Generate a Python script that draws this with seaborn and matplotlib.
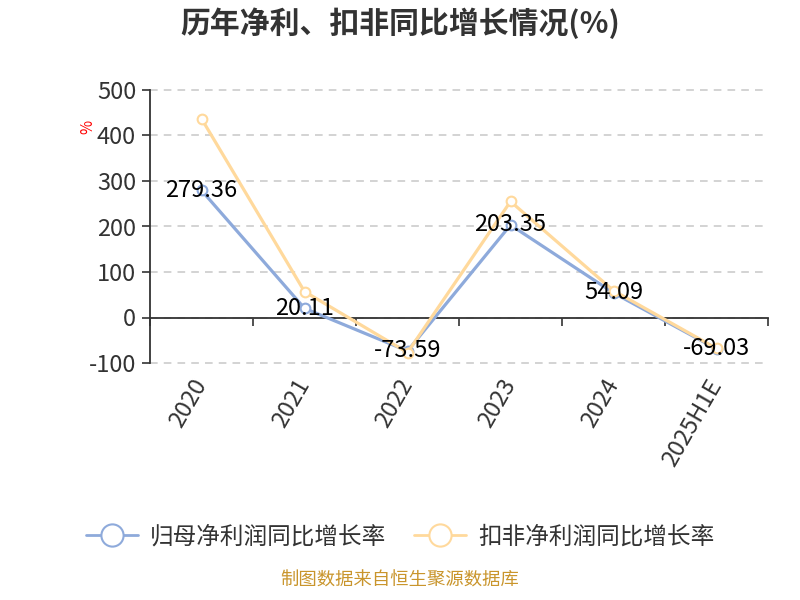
import matplotlib
matplotlib.use("Agg")
import matplotlib.pyplot as plt
import seaborn as sns
import pandas as pd
from matplotlib.lines import Line2D

years = ["2020", "2021", "2022", "2023", "2024", "2025H1E"]
net_profit_growth = [279.36, 20.11, -73.59, 203.35, 54.09, -69.03]
deducted_growth = [437.0, 57.0, -77.0, 255.0, 59.0, -68.0]
series_names = ["归母净利润同比增长率", "扣非净利润同比增长率"]
yticks = [-100, 0, 100, 200, 300, 400, 500]

sns.set_theme(style="white")
plt.rcParams["font.family"] = ["Noto Sans CJK SC", "DejaVu Sans"]
plt.rcParams["axes.unicode_minus"] = False

blue = "#8eaadb"
yellow = "#ffd99c"
txt = "#333333"

df = pd.DataFrame({
    "x": list(range(len(years))) * 2,
    "value": net_profit_growth + deducted_growth,
    "series": [series_names[0]] * len(years) + [series_names[1]] * len(years),
})

fig = plt.figure(figsize=(8, 6), dpi=100)
ax = fig.add_axes([0.1875, 0.395, 0.7725, 0.455])

sns.lineplot(data=df, x="x", y="value", hue="series",
             palette=[blue, yellow], hue_order=series_names,
             linewidth=2.3, marker="o", markersize=7,
             markerfacecolor="white", markeredgewidth=1.5,
             legend=False, ax=ax, zorder=3)
for line, c in zip(ax.get_lines(), [blue, yellow]):
    line.set_markeredgecolor(c)

for i, v in enumerate(net_profit_growth):
    ax.text(i, v, f"{v:.2f}", ha="center", va="center", fontsize=17,
            color="black", zorder=5)

ax.set_xlim(-0.5, len(years) - 0.5)
ax.set_ylim(-100, 500)
ax.set_yticks(yticks)
ax.set_yticklabels([str(t) for t in yticks], fontsize=17, color=txt)
ax.tick_params(axis="y", direction="out", length=6, width=1.2, color=txt, pad=4, left=True)
ax.yaxis.grid(True, linestyle=(0, (5, 4)), color="#c8c8c8", linewidth=1.1)
for gl in ax.get_ygridlines():
    gl.set_clip_on(False)
ax.xaxis.grid(False)

for s in ["top", "right"]:
    ax.spines[s].set_visible(False)
ax.spines["left"].set_color(txt)
ax.spines["left"].set_linewidth(1.3)
ax.spines["bottom"].set_position(("data", 0))
ax.spines["bottom"].set_color(txt)
ax.spines["bottom"].set_linewidth(1.3)

ax.set_xticks(range(len(years)))
ax.set_xticklabels([])
ax.tick_params(axis="x", which="major", length=0, bottom=True)
ax.set_xticks([i - 0.5 for i in range(len(years) + 1)], minor=True)
ax.tick_params(axis="x", which="minor", direction="out", length=6, width=1.2, color=txt, bottom=True)
ax.set_xlabel("")
ax.set_ylabel("")

sec = ax.secondary_xaxis("bottom")
sec.set_xticks(range(len(years)))
sec.set_xticklabels(years, rotation=60, ha="right", va="center", rotation_mode="anchor",
                    fontsize=17, color=txt)
sec.tick_params(axis="x", length=0, pad=13)
sec.spines["bottom"].set_visible(False)

ax.text(-0.1, 0.865, "%", transform=ax.transAxes, rotation=90, color="red",
        fontsize=11, ha="center", va="center")

fig.text(0.5, 0.962, "历年净利、扣非同比增长情况(%)", ha="center", va="center",
         fontsize=21.5, fontweight="bold", color=txt)

handles = [Line2D([0], [0], color=c, linewidth=2, marker="o", markersize=16,
                  markerfacecolor="white", markeredgewidth=1.5, markeredgecolor=c)
           for c in [blue, yellow]]
fig.legend(handles, series_names, loc="center", bbox_to_anchor=(0.5, 0.105),
           ncol=2, frameon=False, fontsize=17, labelcolor=txt,
           handlelength=2.2, columnspacing=1.2, handletextpad=0.5)

fig.text(0.5, 0.017, "制图数据来自恒生聚源数据库", ha="center", va="bottom",
         fontsize=13.2, color="#c9952c")

fig.savefig("out.png", dpi=100)
